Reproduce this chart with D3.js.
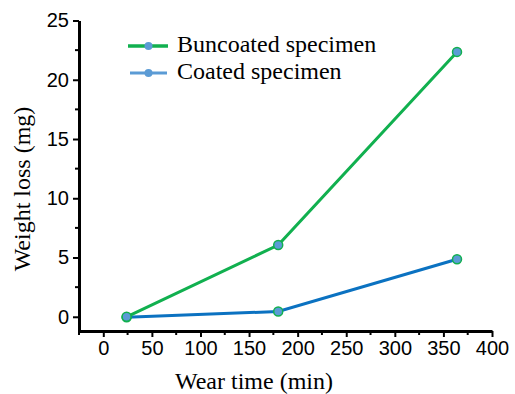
<!DOCTYPE html>
<html>
<head>
<meta charset="utf-8">
<script src="https://cdn.jsdelivr.net/npm/d3@7"></script>
<style>
  body { margin: 0; background: #fff; }
  svg { display: block; }
</style>
</head>
<body>
<svg id="chart" width="515" height="394"></svg>
<script>
// values
const wearTime = [24, 180, 364];
const uncoated = [0.0, 6.05, 22.35];
const coated = [-0.05, 0.45, 4.85];
const seriesNames = ["Buncoated specimen", "Coated specimen"];
const xTicks = [0, 50, 100, 150, 200, 250, 300, 350, 400];
const yTicks = [0, 5, 10, 15, 20, 25];

const serif = "'Liberation Serif', 'Times New Roman', serif";
const sans = "'Liberation Sans', Arial, sans-serif";

const svg = d3.select("#chart");

const x = d3.scaleLinear().domain([-25, 400]).range([79, 492]);
const y = d3.scaleLinear().domain([-1.2, 25]).range([331, 20.5]);

// minor ticks
const xMinor = d3.range(-25, 401, 25).filter(v => xTicks.indexOf(v) < 0);
const yMinor = d3.range(2.5, 25, 5);

const axisG = svg.append("g");

const xAxis = d3.axisBottom(x).tickValues(xTicks).tickSize(6).tickSizeOuter(0).tickPadding(4);
const gx = axisG.append("g").attr("transform", `translate(0,${y.range()[0]})`).call(xAxis);
gx.append("g").selectAll("line").data(xMinor).enter().append("line")
  .attr("x1", d => x(d)).attr("x2", d => x(d)).attr("y1", 0).attr("y2", 4)
  .attr("stroke", "#000").attr("stroke-width", 2);

const yAxis = d3.axisLeft(y).tickValues(yTicks).tickSize(6).tickSizeOuter(0).tickPadding(4);
const gy = axisG.append("g").attr("transform", `translate(${x.range()[0]},0)`).call(yAxis);
gy.append("g").selectAll("line").data(yMinor).enter().append("line")
  .attr("y1", d => y(d)).attr("y2", d => y(d)).attr("x1", 0).attr("x2", -4)
  .attr("stroke", "#000").attr("stroke-width", 2);

axisG.selectAll(".domain").attr("stroke", "#000").attr("stroke-width", 3);
axisG.selectAll(".tick line").attr("stroke", "#000").attr("stroke-width", 2);
axisG.selectAll(".tick text")
  .attr("font-family", sans)
  .attr("font-size", 20).attr("fill", "#000");

// axis titles
svg.append("text")
  .attr("x", 254).attr("y", 389)
  .attr("text-anchor", "middle")
  .attr("font-family", serif)
  .attr("font-size", 24)
  .text("Wear time (min)");

svg.append("text")
  .attr("transform", "translate(30,189) rotate(-90)")
  .attr("text-anchor", "middle")
  .attr("font-family", serif)
  .attr("font-size", 24)
  .text("Weight loss (mg)");

// series
const line = d3.line().x(d => x(d[0])).y(d => y(d[1]));
const series = [
  { name: seriesNames[1], vals: coated, color: "#0b72c1" },
  { name: seriesNames[0], vals: uncoated, color: "#11b04f" }
];

series.forEach(s => {
  const pts = wearTime.map((t, i) => [t, s.vals[i]]);
  svg.append("path").datum(pts)
    .attr("d", line).attr("fill", "none")
    .attr("stroke", s.color).attr("stroke-width", 3);
  svg.append("g").selectAll("circle").data(pts).enter().append("circle")
    .attr("cx", d => x(d[0])).attr("cy", d => y(d[1])).attr("r", 4.5)
    .attr("fill", "#5b9bd5").attr("stroke", "#11b04f").attr("stroke-width", 1.5);
});

// legend
const legend = svg.append("g");
const legendItems = [
  { name: seriesNames[0], color: "#11b04f", x1: 128, x2: 168, w: 3.5 },
  { name: seriesNames[1], color: "#5b9bd5", x1: 130, x2: 167, w: 3 }
];
legendItems.forEach((d, i) => {
  const ly = 46 + i * 27;
  legend.append("line").attr("x1", d.x1).attr("x2", d.x2).attr("y1", ly).attr("y2", ly)
    .attr("stroke", d.color).attr("stroke-width", d.w);
  legend.append("circle").attr("cx", 148.5).attr("cy", ly).attr("r", 4)
    .attr("fill", "#5b9bd5");
  legend.append("text").attr("x", 177).attr("y", ly + 6)
    .attr("font-family", serif)
    .attr("font-size", 24).attr("fill", "#000")
    .text(d.name);
});
</script>
</body>
</html>
